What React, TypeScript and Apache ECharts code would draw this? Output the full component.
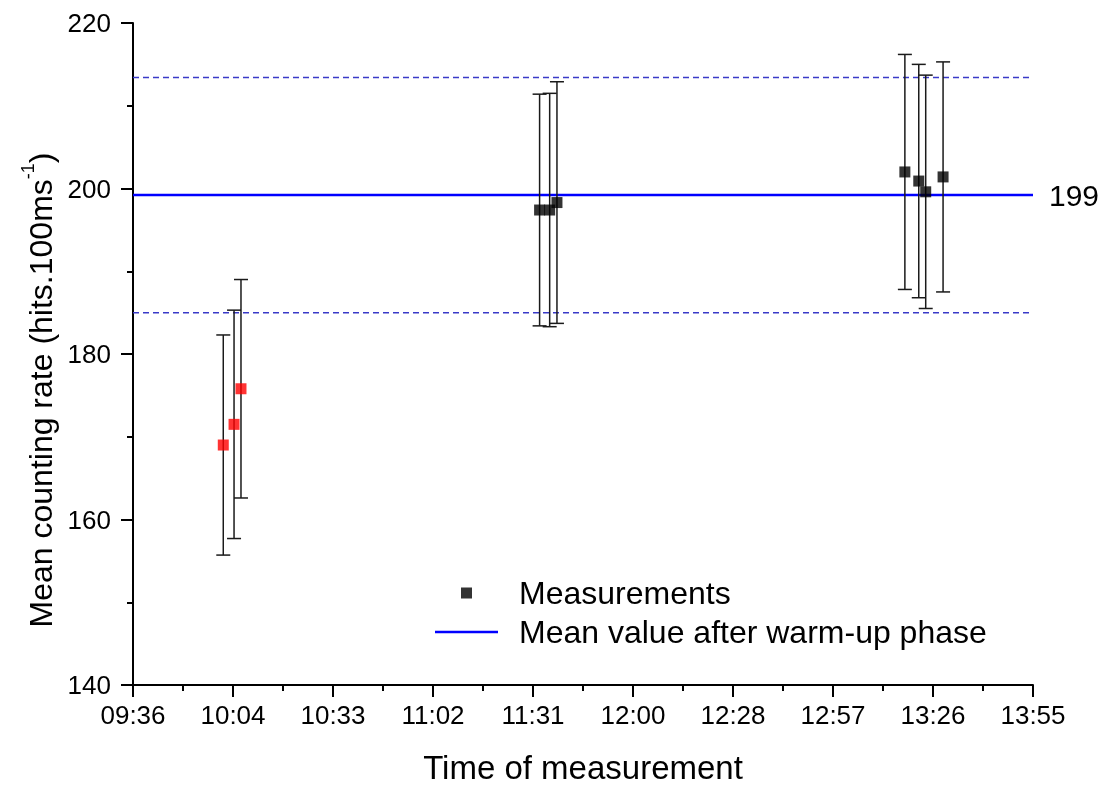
import React, { useEffect, useRef } from "react";
import * as echarts from "echarts";

// Time of measurement in minutes after midnight
const measTime = [602.0, 605.1, 607.1, 693.1, 696.0, 698.1, 798.3, 802.3, 804.3, 809.3];
// Mean counting rate
const measValue = [169.0, 171.5, 175.8, 197.4, 197.4, 198.3, 202.0, 200.9, 199.6, 201.4];
// Error (half-width of error bar)
const measError = [13.3, 13.8, 13.2, 14.0, 14.1, 14.6, 14.2, 14.1, 14.1, 13.9];
// Warm-up phase flag
const warmUp = [true, true, true, false, false, false, false, false, false, false];

const meanValue = 199.2;
const meanBand = 14.2;
const meanLabel = "199";

const xMin = 576;
const xMax = 835.2;
const xInterval = 28.8;
const xTickLabels = ["09:36", "10:04", "10:33", "11:02", "11:31", "12:00", "12:28", "12:57", "13:26", "13:55"];
const yTickLabels = ["140", "160", "180", "200", "220"];

const FONT = "Liberation Sans, Arial, sans-serif";

export default function App() {
  const ref = useRef<HTMLDivElement>(null);
  useEffect(() => {
    if (!ref.current) return;
    const chart = echarts.init(ref.current, null, { renderer: "svg" });

    const errData = measTime.map((t, i) => [t, measValue[i] - measError[i], measValue[i] + measError[i]]);
    const scatterData = measTime.map((t, i) => ({
      value: [t, measValue[i]],
      itemStyle: { color: warmUp[i] ? "#ff0000" : "#000000" },
    }));

    chart.setOption({
      animation: false,
      textStyle: { fontFamily: FONT },
      grid: { left: 133, right: 77, top: 23, bottom: 100, containLabel: false, outerBoundsMode: "none" },
      legend: {
        orient: "vertical",
        left: 430,
        top: 572,
        itemWidth: 63,
        itemHeight: 11,
        itemGap: 7,
        data: [
          { name: "Measurements", icon: "path://M0,0H10V10H0Z" },
          { name: "Mean value after warm-up phase", icon: "path://M0,0H63V2.5H0Z" },
        ],
        textStyle: { fontSize: 32, color: "#000", fontFamily: FONT, padding: [0, 0, 0, 16] },
        selectedMode: false,
      },
      xAxis: {
        type: "value",
        min: xMin,
        max: xMax,
        interval: xInterval,
        name: "Time of measurement",
        nameLocation: "middle",
        nameGap: 66,
        nameTextStyle: { fontSize: 33, color: "#000", fontFamily: FONT },
        axisLine: { show: true, onZero: false, lineStyle: { color: "#000", width: 2 } },
        axisTick: { show: true, length: 12, lineStyle: { color: "#000", width: 2 } },
        minorTick: { show: true, splitNumber: 2, length: 6, lineStyle: { color: "#000", width: 2 } },
        axisLabel: {
          fontSize: 26,
          color: "#000",
          margin: 17,
          fontFamily: FONT,
          formatter: (v: number, idx: number) => xTickLabels[idx] ?? "",
        },
        splitLine: { show: false },
      },
      yAxis: {
        type: "value",
        min: 140,
        max: 220,
        interval: 20,
        name: "{a|Mean counting rate (hits.100ms}{s|-1}{a|)}",
        nameLocation: "middle",
        nameGap: 66,
        nameTextStyle: {
          color: "#000",
          fontFamily: FONT,
          padding: [0, 72, 0, 0],
          rich: {
            a: { fontSize: 32, lineHeight: 44, color: "#000", fontFamily: FONT },
            s: { fontSize: 18, verticalAlign: "top", color: "#000", fontFamily: FONT },
          },
        },
        axisLine: { show: true, onZero: false, lineStyle: { color: "#000", width: 2 } },
        axisTick: { show: true, length: 12, lineStyle: { color: "#000", width: 2 } },
        minorTick: { show: true, splitNumber: 2, length: 6, lineStyle: { color: "#000", width: 2 } },
        axisLabel: {
          fontSize: 26,
          color: "#000",
          margin: 22,
          fontFamily: FONT,
          formatter: (v: number, idx: number) => yTickLabels[idx] ?? String(v),
        },
        splitLine: { show: false },
      },
      series: [
        {
          name: "upper",
          type: "line",
          data: [[xMin, meanValue + meanBand], [xMax, meanValue + meanBand]],
          symbol: "none",
          lineStyle: { color: "#3a3ac8", width: 1.5, type: [6, 4] },
          silent: true,
          z: 1,
        },
        {
          name: "lower",
          type: "line",
          data: [[xMin, meanValue - meanBand], [xMax, meanValue - meanBand]],
          symbol: "none",
          lineStyle: { color: "#3a3ac8", width: 1.5, type: [6, 4] },
          silent: true,
          z: 1,
        },
        {
          name: "Mean value after warm-up phase",
          type: "line",
          data: [[xMin, meanValue], [xMax, meanValue]],
          symbol: "none",
          lineStyle: { color: "#0000ff", width: 2.5 },
          itemStyle: { color: "#0000ff" },
          endLabel: {
            show: true,
            formatter: () => meanLabel,
            fontSize: 30,
            color: "#000",
            distance: 16,
            fontFamily: FONT,
          },
          z: 2,
        },
        {
          name: "errors",
          type: "custom",
          data: errData,
          z: 3,
          renderItem: (params: any, api: any) => {
            const x = api.value(0);
            const lo = api.coord([x, api.value(1)]);
            const hi = api.coord([x, api.value(2)]);
            const half = 7;
            const style = { stroke: "#1a1a1a", lineWidth: 1.5 };
            return {
              type: "group",
              children: [
                { type: "line", shape: { x1: lo[0], y1: lo[1], x2: hi[0], y2: hi[1] }, style },
                { type: "line", shape: { x1: lo[0] - half, y1: lo[1], x2: lo[0] + half, y2: lo[1] }, style },
                { type: "line", shape: { x1: hi[0] - half, y1: hi[1], x2: hi[0] + half, y2: hi[1] }, style },
              ],
            };
          },
        },
        {
          name: "Measurements",
          type: "scatter",
          data: scatterData,
          symbol: "rect",
          symbolSize: 11,
          itemStyle: { color: "#000000" },
          z: 4,
        },
      ],
    });
    return () => chart.dispose();
  }, []);
  return <div ref={ref} style={{ position: "fixed", left: 0, top: 0, width: 1110, height: 785 }} />;
}
